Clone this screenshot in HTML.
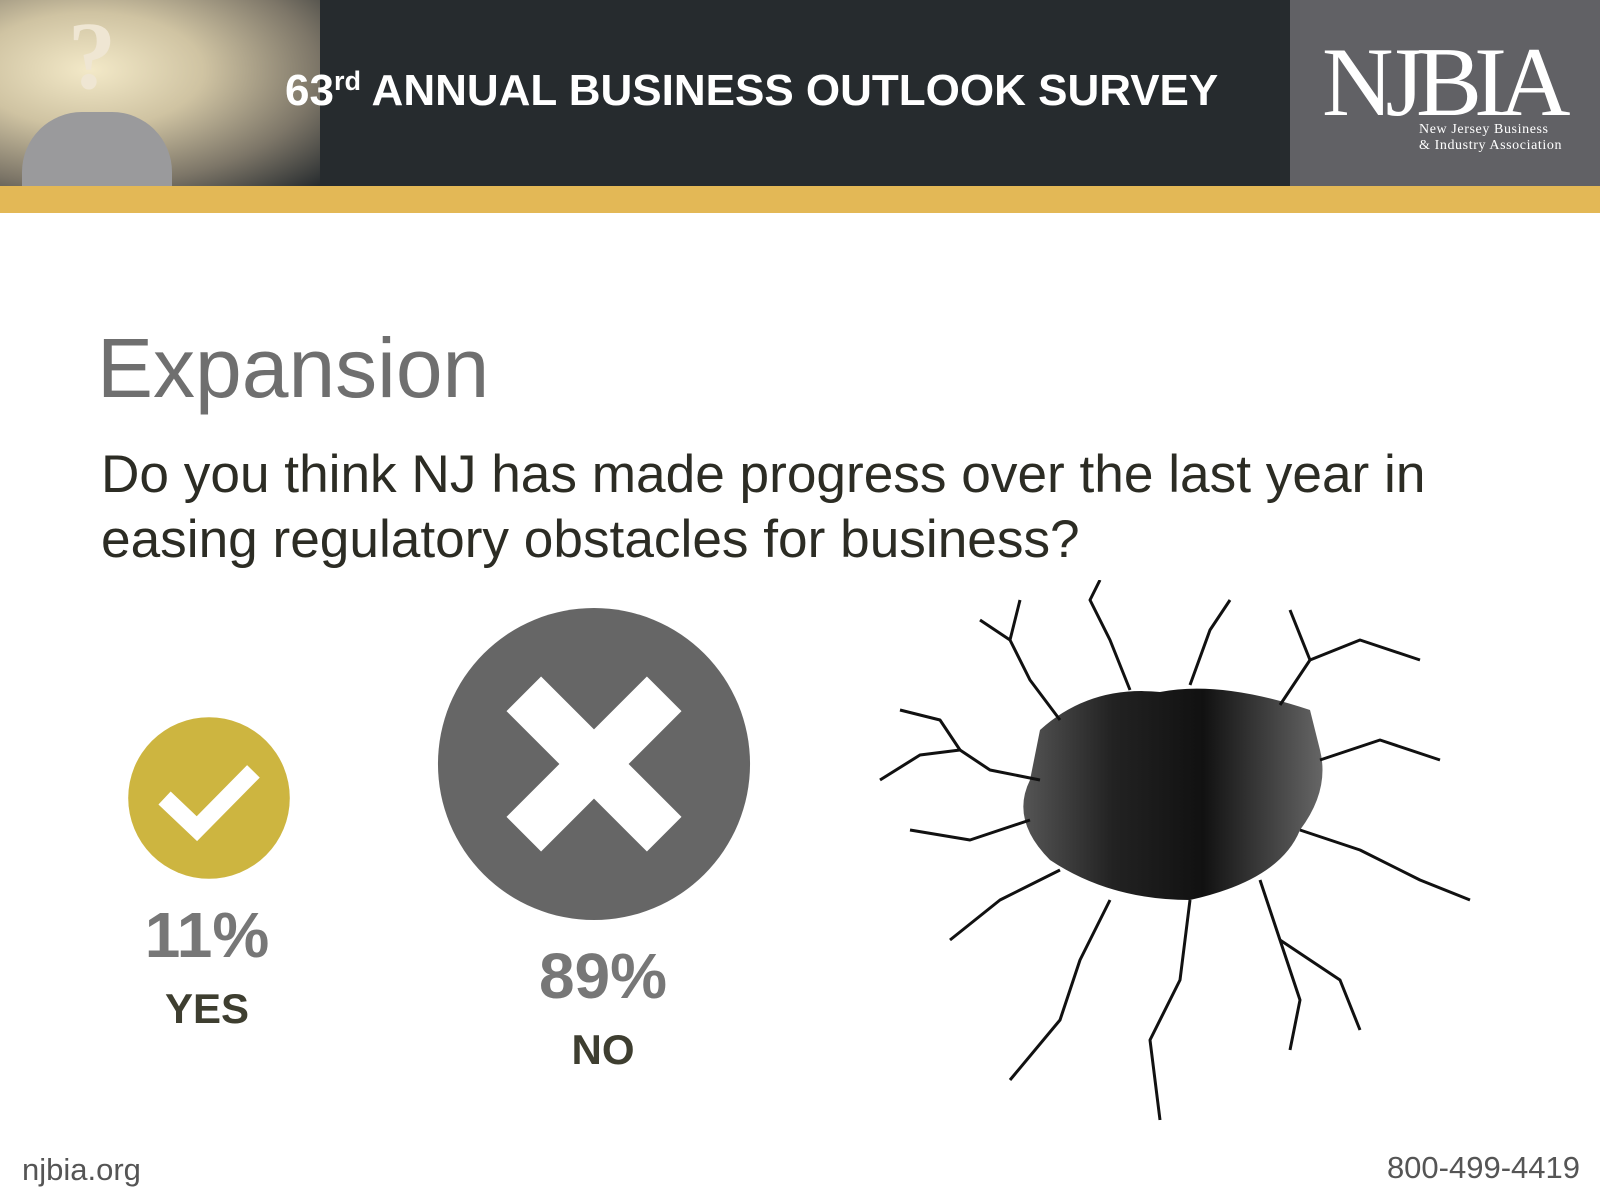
<!DOCTYPE html>
<html><head><meta charset="utf-8"><style>
body{margin:0;width:1600px;height:1200px;background:#fff;overflow:hidden;position:relative;font-family:"Liberation Sans",sans-serif}
.a{position:absolute;margin:0;white-space:nowrap}
</style></head><body>
<div class="a" style="left:0;top:0;width:1600px;height:186px;background:#262b2e"></div>
<div class="a" style="left:0;top:0;width:320px;height:186px;background:radial-gradient(ellipse at 90px 70px,#f3e9c8 0,#cfc3a2 35%,#7d7668 70%,#262b2e 100%)"></div>
<div class="a" style="left:22px;top:112px;width:150px;height:74px;background:#9a9a9c;border-radius:60px 60px 0 0"></div>
<div class="a" style="left:68px;top:0px;font:bold 96px 'Liberation Serif',serif;color:#efe6d3">?</div>
<div class="a" style="left:0;top:186px;width:1600px;height:27px;background:#e3b856"></div>
<div class="a" style="left:1290px;top:0;width:310px;height:186px;background:#616165"></div>
<div class="a" style="left:1322px;top:26px;font:99px 'Liberation Serif',serif;color:#fff;letter-spacing:-8px">NJBIA</div>
<div class="a" style="left:1419px;top:122px;font:14px/16px 'Liberation Serif',serif;color:#fff;letter-spacing:0.6px">New Jersey Business<br>&amp; Industry Association</div>
<div class="a" style="left:285px;top:66px;font:bold 44px 'Liberation Sans',sans-serif;color:#fff">63<sup style="font-size:27px;vertical-align:15px">rd</sup> ANNUAL BUSINESS OUTLOOK SURVEY</div>
<div class="a" style="left:97px;top:320px;font:84px 'Liberation Sans',sans-serif;color:#6f6f6f">Expansion</div>
<div class="a" style="left:101px;top:442px;font:53.2px/65px 'Liberation Sans',sans-serif;color:#2c2c24">Do you think NJ has made progress over the last year in<br>easing regulatory obstacles for business?</div>

<svg class="a" style="left:0;top:0" width="1600" height="1200" id="chart"></svg>

<svg class="a" style="left:860px;top:580px" width="660" height="580" viewBox="0 0 660 580">
<defs><linearGradient id="hg" x1="0" x2="1"><stop offset="0" stop-color="#555"/><stop offset=".3" stop-color="#222"/><stop offset=".6" stop-color="#111"/><stop offset="1" stop-color="#666"/></linearGradient></defs>
<path d="M180 150 Q230 105 300 112 Q360 100 450 130 L460 170 Q470 210 440 250 Q420 300 330 320 Q250 320 190 280 Q150 240 170 200 Z" fill="url(#hg)"/>
<g fill="none" stroke="#111" stroke-width="3" stroke-linejoin="round">
<path d="M180 200 L130 190 L100 170 L60 175 L20 200"/><path d="M100 170 L80 140 L40 130"/>
<path d="M200 140 L170 100 L150 60 L120 40"/><path d="M150 60 L160 20"/>
<path d="M270 110 L250 60 L230 20 L240 0"/><path d="M330 105 L350 50 L370 20"/>
<path d="M420 125 L450 80 L500 60 L560 80"/><path d="M450 80 L430 30"/>
<path d="M460 180 L520 160 L580 180"/><path d="M440 250 L500 270 L560 300 L610 320"/>
<path d="M400 300 L420 360 L440 420 L430 470"/><path d="M330 320 L320 400 L290 460 L300 540"/>
<path d="M250 320 L220 380 L200 440 L150 500"/><path d="M200 290 L140 320 L90 360"/>
<path d="M170 240 L110 260 L50 250"/><path d="M420 360 L480 400 L500 450"/>
</g></svg>

<div class="a" style="left:22px;top:1152px;font:31px 'Liberation Sans',sans-serif;color:#555">njbia.org</div>
<div class="a" style="right:20px;top:1150px;font:31px 'Liberation Sans',sans-serif;color:#555">800-499-4419</div>

<script>
const categories = ["YES", "NO"];
const percents = [11, 89];
const ns = "http://www.w3.org/2000/svg";
const svg = document.getElementById('chart');
const cx = [209, 594];
const cyCenter = [798, 764];
const labelX = [207, 603];
function r(v){ return 40 + Math.sqrt(v) * 12.3; }
function mk(t, a){ const e = document.createElementNS(ns, t); for (const k in a) e.setAttribute(k, a[k]); svg.appendChild(e); return e; }
percents.forEach((v, i) => {
  const rad = r(v);
  const cy = cyCenter[i];
  const c = mk('circle', {cx: cx[i], cy: cy, r: rad, fill: i === 0 ? '#cdb540' : '#666666'});
  
  
  const w = rad * 0.33;
  let p;
  if (i === 0) {
    p = mk('path', {d: `M${cx[i]-rad*0.55} ${cy} L${cx[i]-rad*0.15} ${cy+rad*0.38} L${cx[i]+rad*0.55} ${cy-rad*0.33}`, stroke: '#fff', 'stroke-width': rad*0.22, fill: 'none'});
  } else {
    const k = rad * 0.45;
    p = mk('path', {d: `M${cx[i]-k} ${cy-k} L${cx[i]+k} ${cy+k} M${cx[i]+k} ${cy-k} L${cx[i]-k} ${cy+k}`, stroke: '#fff', 'stroke-width': w * 0.95, fill: 'none'});
  }
  
  
  const ty = cy + rad + 78;
  const t = mk('text', {x: labelX[i], y: ty, 'text-anchor': 'middle', 'font-family': 'Liberation Sans, sans-serif', 'font-weight': 'bold', 'font-size': 64, fill: '#777'});
  t.textContent = v + '%';
  
  
  const l = mk('text', {x: labelX[i], y: ty + 66, 'text-anchor': 'middle', 'font-family': 'Liberation Sans, sans-serif', 'font-weight': 'bold', 'font-size': 42, fill: '#3e3e30'});
  l.textContent = categories[i];
  
  
});
</script>
</body></html>
